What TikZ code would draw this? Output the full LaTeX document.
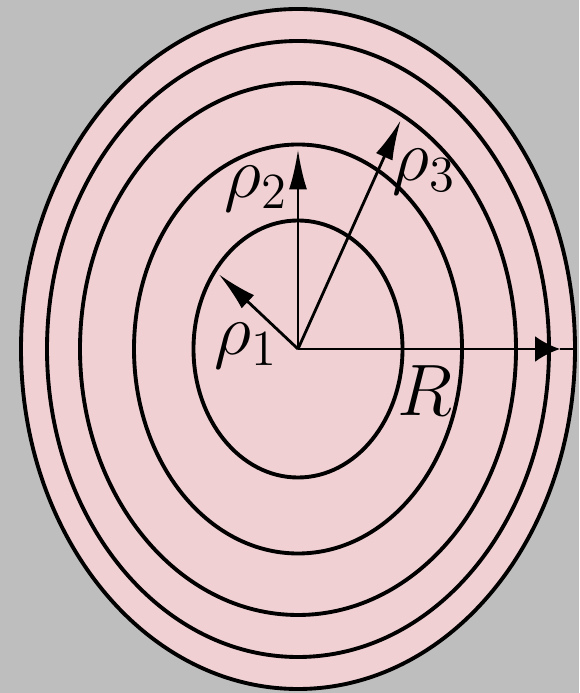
\documentclass[tikz,border=0pt]{standalone}
\usepackage{tikz}
\usetikzlibrary{arrows.meta}
\definecolor{bg}{HTML}{BEBEBE}
\definecolor{disc}{HTML}{F0D0D2}
\begin{document}
\begin{tikzpicture}[x=0.1mm,y=0.1mm,
  ring/.style={draw=black,line width=1.1pt},
  ray/.style={-{Latex[length=4mm,width=1.8mm]},line width=0.8pt,shorten >=0.5mm},
  lbl/.style={inner sep=0pt,font=\fontsize{20}{24}\selectfont}]
\fill[bg] (-298,-344) rectangle (281,349);
\coordinate (O) at (0,0);
\fill[disc] (O) ellipse [x radius=27.7mm,y radius=34mm];
\foreach \a/\b in {27.7/34,25.1/30.8,21.8/26.6,16.4/20.45,10.45/12.85}
  \draw[ring] (O) ellipse [x radius=\a mm,y radius=\b mm];
% radii
\coordinate (p1) at (-82.9,78.2);
\coordinate (p2) at (0,204.5);
\coordinate (p3) at (104.7,233.3);
\coordinate (Rtip) at (262,0);
\coordinate (Rend) at (277,0);
\draw[ray] (O) -- (p1);
\draw[ray] (O) -- (p2);
\draw[ray] (O) -- (p3);
\draw[ray,-{Latex[length=2.5mm,width=2.6mm]},shorten >=0pt] (O) -- (Rtip);
\draw[line width=0.8pt] (Rtip) -- (Rend);
% labels
\node[lbl] (rho1) at (-52,3) {$\rho_1$};
\node[lbl] (rho2) at (-42,160) {$\rho_2$};
\node[lbl] (rho3) at (126,177) {$\rho_3$};
\node[lbl] (R) at (127,-42) {$R$};
\end{tikzpicture}
\end{document}
